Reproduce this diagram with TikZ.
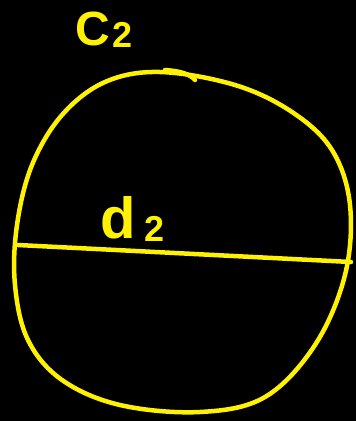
\documentclass[tikz,border=0pt]{standalone}
\usepackage{fontspec}
\setmainfont{Liberation Sans}
\definecolor{hy}{RGB}{255,242,0}
\begin{document}
\begin{tikzpicture}[x=1pt,y=-1pt,
  ink/.style={draw=hy,line width=4.5pt,line cap=round,line join=round},
  lbl/.style={text=hy,inner sep=0pt,anchor=base west}]
\fill[black] (0,0) rectangle (356,421);
\useasboundingbox (0,0) rectangle (356,421);
\draw[ink] plot[smooth cycle,tension=0.6] coordinates {
  (160,72) (105,82) (62,115) (32,165) (17,225) (15,285) (28,340) (62,380)
  (120,405) (200,412) (265,397) (315,345) (345,275) (350,205) (332,150)
  (292,112) (235,85)};
\draw[ink] (165,70) .. controls (180,71) and (190,74) .. (195,80);
\coordinate (dl) at (18,245);
\coordinate (dr) at (351,262);
\draw[ink] (dl) -- (dr);
\node[lbl,font=\fontsize{48}{48}\selectfont\bfseries] (c) at (75,45) {C};
\node[lbl,font=\fontsize{36}{36}\selectfont\bfseries] (c2) at (112,47) {2};
\node[lbl,font=\fontsize{58}{58}\selectfont\bfseries] (d) at (100,238) {d};
\node[lbl,font=\fontsize{36}{36}\selectfont\bfseries] (d2) at (144,241) {2};
\end{tikzpicture}
\end{document}
